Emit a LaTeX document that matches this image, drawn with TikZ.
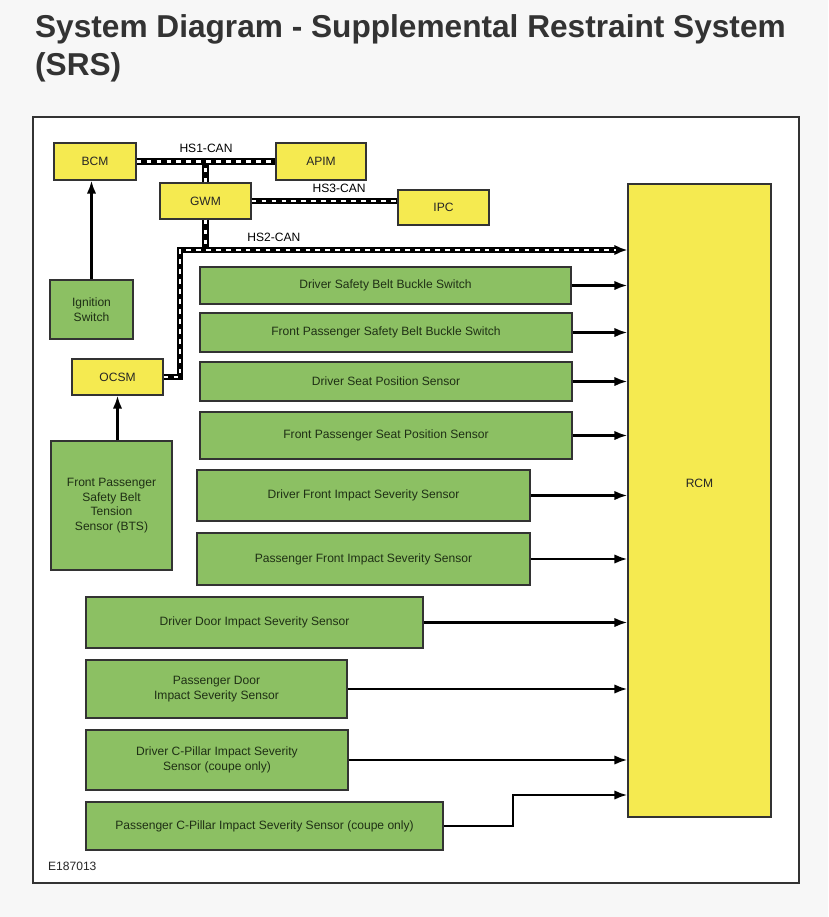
\documentclass[tikz,border=0pt]{standalone}
\usepackage{fontspec}
\setmainfont{Liberation Sans}
\usepackage{xcolor}
\usetikzlibrary{arrows.meta,positioning,calc}

\definecolor{srsgreen}{HTML}{8CC063}
\definecolor{srsyellow}{HTML}{F5EA50}
\definecolor{srstext}{HTML}{1F3015}
\definecolor{pagegray}{HTML}{F7F7F7}

\begin{document}
\begin{tikzpicture}[
        x=0.03cm, y=-0.03cm,
        font=\fontsize{10.3}{12.4}\selectfont,
        module/.style={
            draw=black!80, line width=1.1pt, fill=srsyellow,
            inner sep=0pt, align=center, text=black!85
        },
        sensor/.style={
            draw=black!80, line width=1.1pt, fill=srsgreen,
            inner sep=0pt, align=center, text=srstext
        },
        sig/.style={-{Latex[length=11pt,width=8pt]}, line width=2pt},
        can/.style={
            line width=5.4pt,
            postaction={draw=white, line width=1.9pt, arrows=-,
                dash pattern=on 4pt off 4.5pt, shorten >=#1}
        },
        can/.default=0pt,
        title/.style={anchor=base west, text=black!80,
            font=\bfseries\fontsize{27}{32}\selectfont}
    ]

    % Page and frame
    \fill[pagegray] (0,0) rectangle (828,917);
    \useasboundingbox (0,0) rectangle (828,917);
    \node[title] (title1) at (31,37) {System Diagram - Supplemental Restraint System};
    \node[title] (title2) at (31,75) {(SRS)};
    \draw[line width=1.7pt, draw=black!80, fill=white] (33,117) rectangle (799,883);

    % Modules
    \node[module, minimum width=2.46cm, minimum height=1.11cm] (bcm) at (95,161.5) {BCM};
    \node[module, minimum width=2.70cm, minimum height=1.11cm] (apim) at (321,161.5) {APIM};
    \node[module, minimum width=2.73cm, minimum height=1.08cm] (gwm) at (205.5,201) {GWM};
    \node[module, minimum width=2.73cm, minimum height=1.05cm] (ipc) at (443.5,207.5) {IPC};
    \node[module, minimum width=2.73cm, minimum height=1.08cm] (ocsm) at (117.5,377) {OCSM};
    \node[module, minimum width=4.29cm, minimum height=18.99cm,
          label={[yshift=0.51cm, text=black!85]center:RCM}] (rcm) at (699.5,500.5) {};

    % Inputs
    \node[sensor, minimum width=2.49cm, minimum height=1.77cm] (ign) at (91.5,309.5)
        {Ignition\\Switch};
    \node[sensor, minimum width=3.63cm, minimum height=3.87cm] (bts) at (111.5,505.5)
        {Front Passenger\\Safety Belt\\Tension\\Sensor (BTS)};
    \node[sensor, minimum width=11.13cm, minimum height=1.11cm] (dsbb) at (385.5,285.5)
        {Driver Safety Belt Buckle Switch};
    \node[sensor, minimum width=11.16cm, minimum height=1.17cm] (fpsbb) at (386,332.5)
        {Front Passenger Safety Belt Buckle Switch};
    \node[sensor, minimum width=11.16cm, minimum height=1.17cm] (dsps) at (386,381.5)
        {Driver Seat Position Sensor};
    \node[sensor, minimum width=11.16cm, minimum height=1.41cm] (fpsps) at (386,435.5)
        {Front Passenger Seat Position Sensor};
    \node[sensor, minimum width=9.99cm, minimum height=1.53cm] (dfis) at (363.5,495.5)
        {Driver Front Impact Severity Sensor};
    \node[sensor, minimum width=9.99cm, minimum height=1.56cm] (pfis) at (363.5,559)
        {Passenger Front Impact Severity Sensor};
    \node[sensor, minimum width=10.11cm, minimum height=1.53cm] (ddis) at (254.5,622.5)
        {Driver Door Impact Severity Sensor};
    \node[sensor, minimum width=7.83cm, minimum height=1.74cm] (pdis) at (216.5,689)
        {Passenger Door\\Impact Severity Sensor};
    \node[sensor, minimum width=7.86cm, minimum height=1.80cm] (dcp) at (217,760)
        {Driver C-Pillar Impact Severity\\Sensor (coupe only)};
    \node[sensor, minimum width=10.71cm, minimum height=1.44cm] (pcp) at (264.5,826)
        {Passenger C-Pillar Impact Severity Sensor (coupe only)};

    \node[anchor=west, text=black!85] (figid) at (44,866) {E187013};

    % CAN buses
    \coordinate (hs2l) at (180,250);
    \coordinate (pcpbend) at (513,795);
    \draw[can] (gwm.north) -- (gwm.north |- bcm.east);
    \draw[can] (bcm.east) -- node[above=1.5pt]{HS1-CAN} (apim.west);
    \draw[can] (gwm.east) -- node[above=1.5pt, pos=0.6]{HS3-CAN} (gwm.east -| ipc.west);
    \draw[can] (gwm.south) -- (gwm.south |- hs2l);
    \draw[can=10pt, -{Latex[length=11pt,width=9pt]}] (ocsm.east) -| (hs2l)
        -- node[above=1.5pt, pos=0.21]{HS2-CAN} (hs2l -| rcm.west);

    % Hardwired inputs
    \draw[sig] (ign.north) -- (ign.north |- bcm.south);
    \draw[sig] (ocsm.south |- bts.north) -- (ocsm.south);
    \foreach \s in {dsbb,fpsbb,dsps,fpsps,dfis,pfis,ddis,pdis,dcp}
        \draw[sig] (\s.east) -- (\s.east -| rcm.west);
    \draw[sig] (pcp.east) -| (pcpbend) -- (pcpbend -| rcm.west);

\end{tikzpicture}
\end{document}
